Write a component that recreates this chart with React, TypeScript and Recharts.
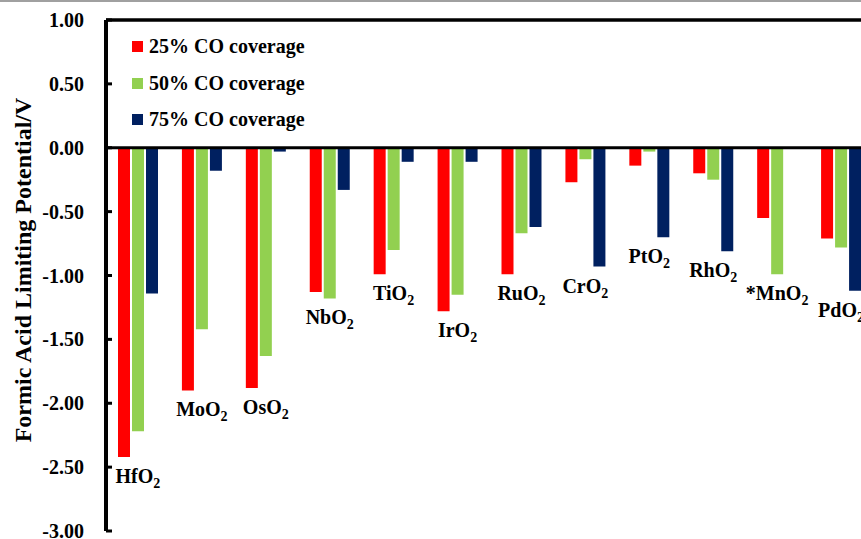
import React from 'react';
import { ComposedChart, Bar, Scatter, XAxis, YAxis, ReferenceLine, Legend } from 'recharts';

const categories = ['HfO2', 'MoO2', 'OsO2', 'NbO2', 'TiO2', 'IrO2', 'RuO2', 'CrO2', 'PtO2', 'RhO2', '*MnO2', 'PdO2'];
const co25 = [-2.42, -1.9, -1.88, -1.13, -0.99, -1.28, -0.99, -0.27, -0.14, -0.2, -0.55, -0.71];
const co50 = [-2.22, -1.42, -1.63, -1.18, -0.8, -1.15, -0.67, -0.09, -0.03, -0.25, -0.99, -0.78];
const co75 = [-1.14, -0.18, -0.03, -0.33, -0.11, -0.11, -0.62, -0.93, -0.7, -0.81, null, -1.12];
const yTicks = [1, 0.5, 0, -0.5, -1, -1.5, -2, -2.5, -3];
const seriesNames = ['25% CO coverage', '50% CO coverage', '75% CO coverage'];
const colors = ['#FF0000', '#92D050', '#002060'];
const yTitle = 'Formic Acid Limiting Potential/V';

const FONT = '"Liberation Serif", "Times New Roman", serif';

const data = categories.map((name, i) => {
  const vals = [co25[i], co50[i], co75[i]].filter((v) => v !== null) as number[];
  return {
    name,
    c25: co25[i],
    c50: co50[i],
    c75: co75[i],
    labelAt: Math.min(...vals),
  };
});

const YTick = (props: any) => {
  const { x, y, payload } = props;
  return (
    <g>
      <line x1={x} x2={x + 6} y1={y} y2={y} stroke="#000" strokeWidth={3} />
      <text x={x - 22} y={y} dy={7} textAnchor="end" fontFamily={FONT} fontWeight="bold" fontSize={20} fill="#000">
        {Number(payload.value).toFixed(2)}
      </text>
    </g>
  );
};

const CatLabel = (props: any) => {
  const { cx, cy, payload } = props;
  if (cx == null || cy == null) return null;
  const name: string = payload.name;
  const base = name.slice(0, -1);
  const sub = name.slice(-1);
  return (
    <text x={cx} y={cy + 26} textAnchor="middle" fontFamily={FONT} fontWeight="bold" fontSize={20} fill="#000">
      {base}
      <tspan dy={5} fontSize={14}>{sub}</tspan>
    </text>
  );
};

const LegendBox = () => (
  <div style={{ position: 'relative', width: 200 }}>
    {seriesNames.map((n, i) => (
      <div key={n} style={{ display: 'flex', alignItems: 'center', height: 36.7 }}>
        <div style={{ width: 11, height: 11, background: colors[i], marginRight: 6 }} />
        <span style={{ fontFamily: FONT, fontWeight: 'bold', fontSize: 20, color: '#000', whiteSpace: 'nowrap' }}>{n}</span>
      </div>
    ))}
  </div>
);

const YTitle = () => {
  const cx = 23;
  const cy = 270;
  return (
    <text
      x={cx}
      y={cy}
      transform={`rotate(-90, ${cx}, ${cy})`}
      textAnchor="middle"
      dominantBaseline="central"
      fontFamily={FONT}
      fontWeight="bold"
      fontSize={24}
      fill="#000"
    >
      {yTitle}
    </text>
  );
};

export default function App() {
  return (
    <div style={{ position: 'fixed', left: 0, top: 0, width: 861, height: 539, overflow: 'hidden', background: '#fff' }}>
      <div style={{ position: 'absolute', left: 0, top: 0, width: 861, height: 2, background: '#a0a0a0' }} />
      <ComposedChart
        width={900}
        height={539}
        data={data}
        margin={{ top: 20, right: 27, bottom: 8, left: 0 }}
        barSize={12}
        barGap={2}
      >
        <XAxis dataKey="name" tick={false} tickLine={false} height={0} axisLine={{ stroke: '#000', strokeWidth: 3.5 }} />
        <YAxis
          width={106}
          domain={[-3, 1]}
          ticks={yTicks}
          interval={0}
          tickSize={0}
          tickMargin={0}
          tickLine={false}
          tick={<YTick />}
          axisLine={{ stroke: '#000', strokeWidth: 4 }}
          label={<YTitle />}
        />
        <Legend
          layout="horizontal"
          verticalAlign="middle"
          align="center"
          content={() => <LegendBox />}
          wrapperStyle={{ position: 'absolute', left: 132, top: 28, width: 220, height: 112 }}
        />
        <Bar dataKey="c25" name={seriesNames[0]} fill={colors[0]} isAnimationActive={false} />
        <Bar dataKey="c50" name={seriesNames[1]} fill={colors[1]} isAnimationActive={false} />
        <Bar dataKey="c75" name={seriesNames[2]} fill={colors[2]} isAnimationActive={false} />
        <ReferenceLine y={0} stroke="#000" strokeWidth={3} />
        <ReferenceLine y={1} stroke="#000" strokeWidth={3.5} />
        <Scatter dataKey="labelAt" shape={<CatLabel />} isAnimationActive={false} legendType="none" />
      </ComposedChart>
    </div>
  );
}
